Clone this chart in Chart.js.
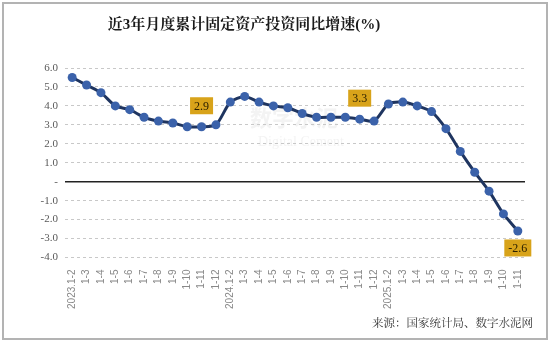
<!DOCTYPE html>
<html>
<head>
<meta charset="utf-8">
<script src="https://cdn.jsdelivr.net/npm/chart.js@4.4.1/dist/chart.umd.min.js"></script>
<style>
  body { margin: 0; background: #fff; }
  #wrap { position: relative; width: 550px; height: 343px; }
  #frame { position: absolute; left: 2px; top: 2px; width: 542px; height: 334px; border: 2px solid #b3b3b3; }
  #chart { position: absolute; left: 0; top: 0; }
</style>
</head>
<body>
<div id="wrap">
  <div id="frame"></div>
  <canvas id="chart" width="550" height="343"></canvas>
</div>
<script>
// 累计增速（%），2023年1-2月至2025年1-11月
const months = [
  '2023.1-2', '1-3', '1-4', '1-5', '1-6', '1-7', '1-8', '1-9', '1-10', '1-11', '1-12',
  '2024.1-2', '1-3', '1-4', '1-5', '1-6', '1-7', '1-8', '1-9', '1-10', '1-11', '1-12',
  '2025.1-2', '1-3', '1-4', '1-5', '1-6', '1-7', '1-8', '1-9', '1-10', '1-11'
];
const growth = [
  5.5, 5.1, 4.7, 4.0, 3.8, 3.4, 3.2, 3.1, 2.9, 2.9, 3.0,
  4.2, 4.5, 4.2, 4.0, 3.9, 3.6, 3.4, 3.4, 3.4, 3.3, 3.2,
  4.1, 4.2, 4.0, 3.7, 2.8, 1.6, 0.5, -0.5, -1.7, -2.6
];
// 需要标注数值的点：索引 和 位置
const labelIdx = [9, 20, 31];
const labelPos = ['above', 'above', 'below'];

const titleText = '近3年月度累计固定资产投资同比增速(%)';
const sourceText = '来源：国家统计局、数字水泥网';

const serif = "'Liberation Serif', 'Noto Serif CJK SC', 'Noto Sans CJK SC', serif";

const extras = {
  id: 'extras',
  beforeDatasetsDraw(chart) {
    const ctx = chart.ctx;
    const y = chart.scales.y;
    const area = chart.chartArea;
    ctx.save();
    // 水印
    ctx.fillStyle = 'rgba(200,200,200,0.22)';
    ctx.font = "bold 22px 'Noto Sans CJK SC'";
    ctx.textAlign = 'left';
    ctx.textBaseline = 'middle';
    ctx.fillText('数字水泥', 250, 118);
    ctx.font = "14px 'Liberation Serif'";
    ctx.fillText('Digital Cement', 258, 142);
    // 零轴
    const y0 = y.getPixelForValue(0);
    ctx.strokeStyle = '#222';
    ctx.lineWidth = 1.5;
    ctx.beginPath();
    ctx.moveTo(area.left, y0);
    ctx.lineTo(area.right, y0);
    ctx.stroke();
    ctx.restore();
  },
  afterDraw(chart) {
    const ctx = chart.ctx;
    const meta = chart.getDatasetMeta(0);
    ctx.save();
    // 标题
    ctx.fillStyle = '#1a1a1a';
    ctx.font = "bold 15px " + serif;
    ctx.textAlign = 'center';
    ctx.textBaseline = 'middle';
    ctx.fillText(titleText, 244, 25);
    // 数据来源
    ctx.fillStyle = '#333';
    ctx.font = "11.5px " + serif;
    ctx.textAlign = 'right';
    ctx.fillText(sourceText, 533, 324);
    // 数据标签
    ctx.font = "12px " + serif;
    ctx.textAlign = 'center';
    labelIdx.forEach((idx, k) => {
      const pt = meta.data[idx];
      const txt = growth[idx].toFixed(1);
      const w = ctx.measureText(txt).width + 8;
      const h = 17;
      const cy = labelPos[k] === 'above' ? pt.y - 21 : pt.y + 17;
      ctx.fillStyle = '#d8a31a';
      ctx.fillRect(pt.x - w / 2, cy - h / 2, w, h);
      ctx.fillStyle = '#2b2000';
      ctx.fillText(txt, pt.x, cy + 1);
    });
    ctx.restore();
  }
};

new Chart(document.getElementById('chart'), {
  type: 'line',
  data: {
    labels: months,
    datasets: [{
      data: growth,
      borderColor: '#1f3560',
      borderWidth: 3,
      tension: 0.25,
      pointRadius: 4.5,
      pointBackgroundColor: '#3b62aa',
      pointBorderWidth: 0
    }]
  },
  options: {
    responsive: false,
    animation: false,
    layout: { padding: { top: 68, right: 25, left: 0, bottom: 0 } },
    plugins: { legend: { display: false }, tooltip: { enabled: false } },
    scales: {
      x: {
        offset: true,
        grid: { display: false },
        border: { display: false },
        ticks: {
          autoSkip: false,
          minRotation: 90,
          maxRotation: 90,
          padding: 4,
          color: '#888',
          font: { family: "'Liberation Sans'", size: 10 }
        },
        afterFit(scale) { scale.height = 85.5; }
      },
      y: {
        min: -4,
        max: 6,
        grid: { color: '#c8c8c8', drawTicks: false, lineWidth: 1 },
        border: { display: false, dash: [3, 3] },
        ticks: {
          stepSize: 1,
          padding: 7,
          color: '#595959',
          font: { family: serif, size: 11 },
          callback: v => v === 0 ? '-' : v.toFixed(1)
        },
        afterFit(scale) { scale.width = 65; }
      }
    }
  },
  plugins: [extras]
});
</script>
</body>
</html>
